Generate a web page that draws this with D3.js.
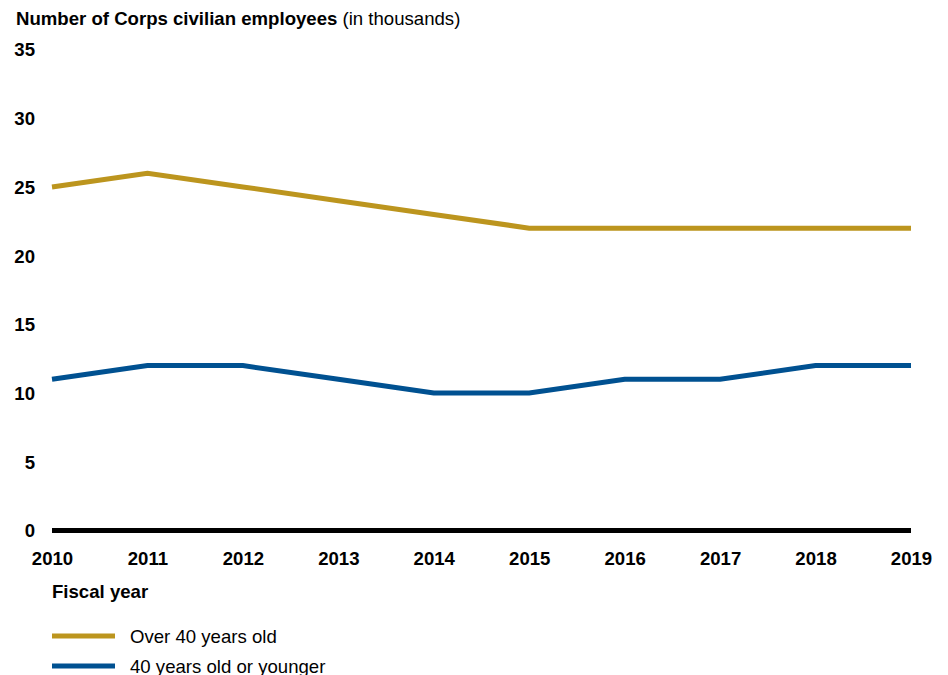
<!DOCTYPE html>
<html>
<head>
<meta charset="utf-8">
<script src="https://cdn.jsdelivr.net/npm/d3@7"></script>
<style>
  html, body { margin: 0; padding: 0; background: #fff; }
  svg text { font-family: "Liberation Sans", Arial, sans-serif; fill: #000; }
</style>
</head>
<body>
<svg id="chart" width="948" height="675"></svg>
<script>
// Fiscal years and headcounts (thousands) by age group
const years = [2010, 2011, 2012, 2013, 2014, 2015, 2016, 2017, 2018, 2019];
const over40 = [25, 26, 25, 24, 23, 22, 22, 22, 22, 22];
const under40 = [11, 12, 12, 11, 10, 10, 11, 11, 12, 12];
const yTicks = [0, 5, 10, 15, 20, 25, 30, 35];
const seriesNames = ["Over 40 years old", "40 years old or younger"];
const seriesColors = ["#BC951E", "#005191"];

const FONT = '"Liberation Sans", Arial, sans-serif';
const FS = "18.6px";

const svg = d3.select("#chart");

const x = d3.scaleLinear().domain([2010, 2019]).range([52, 911]);
const y = d3.scaleLinear().domain([0, 35]).range([530.5, 49.5]);

// Title
const title = svg.append("text").attr("x", 16).attr("y", 25).style("font-size", FS);
title.append("tspan").attr("font-weight", "bold").text("Number of Corps civilian employees");
title.append("tspan").text(" (in thousands)");

// Y axis labels (no axis line)
const yAxis = d3.axisLeft(y).tickValues(yTicks).tickSize(0).tickPadding(0);
const yg = svg.append("g").attr("transform", "translate(35,0.5)").call(yAxis);
yg.select(".domain").remove();
yg.selectAll("text")
  .style("font-family", FONT)
  .style("font-size", FS).style("font-weight", "bold").attr("fill", "#000");

// X axis labels
const xAxis = d3.axisBottom(x).tickValues(years).tickFormat(d3.format("d")).tickSize(0).tickPadding(0);
const xg = svg.append("g").attr("transform", "translate(0,552)").call(xAxis);
xg.select(".domain").remove();
xg.selectAll("text")
  .style("font-family", FONT)
  .style("font-size", FS).style("font-weight", "bold").attr("fill", "#000");

// Zero baseline
svg.append("line")
  .attr("x1", x(2010)).attr("x2", x(2019))
  .attr("y1", y(0)).attr("y2", y(0))
  .attr("stroke", "#000").attr("stroke-width", 5);

// Series lines
const line = d3.line().x((d, i) => x(years[i])).y(d => y(d));
[over40, under40].forEach((vals, i) => {
  svg.append("path")
    .datum(vals)
    .attr("d", line)
    .attr("fill", "none")
    .attr("stroke", seriesColors[i])
    .attr("stroke-width", 5)
    .attr("stroke-linejoin", "miter");
});

// X axis title
svg.append("text").attr("x", 52).attr("y", 598)
  .style("font-size", FS).attr("font-weight", "bold").text("Fiscal year");

// Legend
seriesNames.forEach((name, i) => {
  const ly = 636 + i * 30;
  svg.append("line").attr("x1", 52).attr("x2", 115).attr("y1", ly).attr("y2", ly)
    .attr("stroke", seriesColors[i]).attr("stroke-width", 5);
  svg.append("text").attr("x", 130).attr("y", ly + 7)
    .style("font-size", FS).text(name);
});
</script>
</body>
</html>
